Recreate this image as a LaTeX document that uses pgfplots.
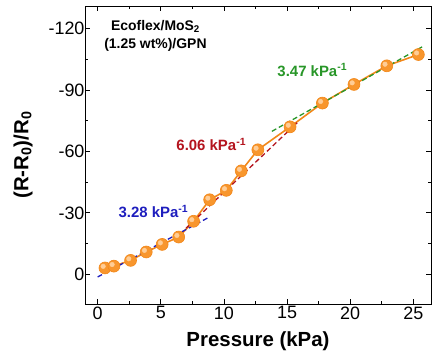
\documentclass[border=0pt]{standalone}
\usepackage{pgfplots}
\pgfplotsset{compat=1.18}
\usepackage{fontspec}
\setmainfont{Liberation Sans}
\definecolor{dorange}{RGB}{242,135,25}
\definecolor{morange}{RGB}{248,150,45}
\definecolor{lorange}{RGB}{255,205,150}
\definecolor{fitblue}{RGB}{30,30,190}
\definecolor{fitred}{RGB}{180,20,30}
\definecolor{fitgreen}{RGB}{40,150,40}
\pgfplotstableread{
x y
0.58 -3.1
1.29 -4.0
2.61 -6.8
3.85 -10.9
5.11 -14.6
6.42 -18.2
7.6 -25.9
8.87 -36.4
10.19 -41
11.37 -50.5
12.69 -60.8
15.24 -72.0
17.8 -83.6
20.3 -92.7
22.9 -101.8
25.4 -107.3
}\datatab
\begin{document}
\begin{tikzpicture}
\begin{axis}[
  scale only axis, width=346bp, height=298bp,
  xmin=-1, xmax=26.4, ymin=-131, ymax=14.5,
  y dir=reverse,
  xtick={0,5,10,15,20,25}, minor xtick={2.5,7.5,12.5,17.5,22.5},
  ytick={-120,-90,-60,-30,0}, minor ytick={-105,-75,-45,-15},
  tick align=inside,
  major tick length=5pt, minor tick length=3.5pt,
  axis line style={line width=1pt}, every tick/.style={line width=0.8pt,black},
  ticklabel style={font=\fontsize{18}{20}\selectfont},
  yticklabel style={xshift=3pt},
  xticklabel style={yshift=1pt},
  /pgf/number format/assume math mode=true,
  xlabel={\textbf{Pressure (kPa)}},
  ylabel={\textbf{(R-R\textsubscript{0})/R\textsubscript{0}}},
  label style={font=\fontsize{20.5}{22}\selectfont},
  xlabel style={at={([yshift=-37bp]axis description cs:0.5,0)}, anchor=center},
  ylabel style={at={([xshift=-62bp]axis description cs:0,0.5)}, anchor=center},
  clip=false,
]
\coordinate (sw) at (axis description cs:0,0);
\coordinate (ne) at (axis description cs:1,1);
\addplot[dorange, line width=1.6pt] table {\datatab};
\addplot[fitblue, line width=1.3pt, dash pattern=on 5pt off 3pt] coordinates {(0,1.3) (8.8,-27.8)};
\addplot[fitred, line width=1.3pt, dash pattern=on 5pt off 3pt] coordinates {(7.0,-22.5) (15.8,-74.0)};
\addplot[fitgreen, line width=1.3pt, dash pattern=on 5pt off 3pt] coordinates {(13.8,-69.8) (25.8,-111.4)};
\addplot[dorange, only marks, mark=*, mark size=6pt, mark options={fill=morange, draw=dorange, line width=0.6pt}] table {\datatab};
\addplot[lorange, only marks, mark=*, mark size=2.3pt, mark options={fill=lorange, draw=lorange, xshift=-1.8pt, yshift=1.6pt}] table {\datatab};
\node[fitblue, font=\fontsize{15}{17}\selectfont\bfseries] at (axis cs:4.42,-30.5) {3.28 kPa\textsuperscript{-1}};
\node[fitred, font=\fontsize{15}{17}\selectfont\bfseries] at (axis cs:9.0,-63.2) {6.06 kPa\textsuperscript{-1}};
\node[fitgreen, font=\fontsize{15}{17}\selectfont\bfseries] at (axis cs:17.0,-99.8) {3.47 kPa\textsuperscript{-1}};
\node[align=center, font=\fontsize{14}{18}\selectfont\bfseries] at (axis cs:4.58,-116.5) {Ecoflex/MoS\textsubscript{2}\\(1.25 wt\%)/GPN};
\end{axis}
\pgfresetboundingbox
\path[use as bounding box] ([shift={(-85bp,-47bp)}]sw) rectangle ([shift={(1bp,6bp)}]ne);
\end{tikzpicture}
\end{document}
